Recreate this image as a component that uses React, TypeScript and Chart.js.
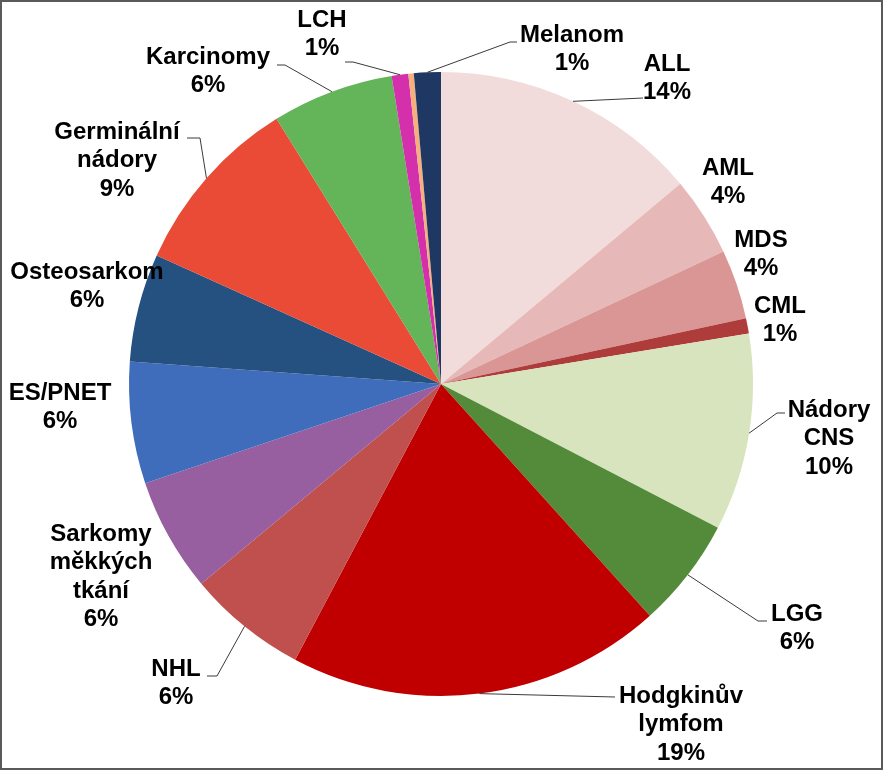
import React, { useEffect, useRef } from "react";
import { Chart, registerables } from "chart.js";

Chart.register(...registerables);

// Categories clockwise from 12 o'clock
const categories = [
  "ALL",
  "AML",
  "MDS",
  "CML",
  "Nádory CNS",
  "LGG",
  "Hodgkinův lymfom",
  "NHL",
  "Sarkomy měkkých tkání",
  "ES/PNET",
  "Osteosarkom",
  "Germinální nádory",
  "Karcinomy",
  "LCH",
  "Ostatní",
  "Melanom",
];

// Shares in percent
const values = [13.9, 4.1, 3.6, 0.8, 10.2, 5.7, 19.4, 6.2, 5.9, 6.3, 5.6, 9.4, 6.3, 0.86, 0.28, 1.39];

// Label text lines (percent is appended); null = no label
const labelLines: (string[] | null)[] = [
  ["ALL"],
  ["AML"],
  ["MDS"],
  ["CML"],
  ["Nádory", "CNS"],
  ["LGG"],
  ["Hodgkinův", "lymfom"],
  ["NHL"],
  ["Sarkomy", "měkkých", "tkání"],
  ["ES/PNET"],
  ["Osteosarkom"],
  ["Germinální", "nádory"],
  ["Karcinomy"],
  ["LCH"],
  null,
  ["Melanom"],
];

const colors = [
  "#F2DCDB",
  "#E6B9B8",
  "#D99694",
  "#AE3C3A",
  "#D7E4BD",
  "#548B3B",
  "#C00000",
  "#C0504D",
  "#975EA0",
  "#406CBC",
  "#255180",
  "#E94B36",
  "#64B45A",
  "#D530AC",
  "#F5B07E",
  "#1F3763",
];

// Label layout relative to pie centre: text centre of first line, and leader elbow/end
type Lay = { tx: number; ty: number; elbow?: [number, number]; end?: [number, number] } | null;
const labelLayout: Lay[] = [
  { tx: 226, ty: -322, elbow: [202, -286], end: [202, -286] },
  { tx: 287, ty: -218 },
  { tx: 320, ty: -146 },
  { tx: 339, ty: -80 },
  { tx: 388, ty: 24, elbow: [336, 29], end: [344, 29] },
  { tx: 356, ty: 228, elbow: [317, 237], end: [326, 237] },
  { tx: 240, ty: 310, elbow: [174, 313], end: [174, 313] },
  { tx: -265, ty: 283, elbow: [-224, 292], end: [-234, 292] },
  { tx: -340, ty: 148 },
  { tx: -381, ty: 7 },
  { tx: -354, ty: -114 },
  { tx: -324, ty: -254, elbow: [-241, -246], end: [-254, -246] },
  { tx: -233, ty: -329, elbow: [-156, -319], end: [-164, -319] },
  { tx: -119, ty: -366, elbow: [-88, -322], end: [-96, -322] },
  null,
  { tx: 131, ty: -351, elbow: [69, -342], end: [76, -342] },
];

const FONT_SIZE = 24;
const LINE_H = 28.5;

const labelPlugin = {
  id: "pieLabels",
  afterDatasetsDraw(chart: any) {
    const ctx = chart.ctx as CanvasRenderingContext2D;
    const meta = chart.getDatasetMeta(0);
    const data = chart.data.datasets[0].data as number[];
    const total = data.reduce((a, b) => a + b, 0);
    ctx.save();
    meta.data.forEach((arc: any, i: number) => {
      const lay = labelLayout[i];
      const lines = labelLines[i];
      if (!lay || !lines) return;
      const p = arc.getProps(["x", "y", "startAngle", "endAngle", "outerRadius"], true);
      const mid = (p.startAngle + p.endAngle) / 2;
      const cx = p.x;
      const cy = p.y;
      if (lay.elbow && lay.end) {
        const sx = cx + Math.cos(mid) * p.outerRadius;
        const sy = cy + Math.sin(mid) * p.outerRadius;
        ctx.beginPath();
        ctx.strokeStyle = "#3a3a3a";
        ctx.lineWidth = 1;
        ctx.moveTo(sx, sy);
        ctx.lineTo(cx + lay.elbow[0], cy + lay.elbow[1]);
        ctx.lineTo(cx + lay.end[0], cy + lay.end[1]);
        ctx.stroke();
      }
      const pct = Math.round((data[i] / total) * 100) + "%";
      const all = [...lines, pct];
      ctx.fillStyle = "#000000";
      ctx.font = `bold ${FONT_SIZE}px "Liberation Sans", Arial, sans-serif`;
      ctx.textAlign = "center";
      ctx.textBaseline = "alphabetic";
      all.forEach((t, k) => {
        const capCenter = cy + lay.ty + k * LINE_H;
        ctx.fillText(t, cx + lay.tx, capCenter + FONT_SIZE * 0.358);
      });
    });
    ctx.restore();
  },
};

export default function App() {
  const canvasRef = useRef<HTMLCanvasElement | null>(null);

  useEffect(() => {
    if (!canvasRef.current) return;
    const chart = new Chart(canvasRef.current, {
      type: "pie",
      data: {
        labels: categories,
        datasets: [
          {
            data: values,
            backgroundColor: colors,
            borderColor: colors,
            borderWidth: 0,
          },
        ],
      },
      options: {
        responsive: false,
        animation: false,
        layout: { padding: { left: 127, right: 128, top: 70, bottom: 72 } },
        plugins: {
          legend: { display: false },
          tooltip: { enabled: false },
        },
      },
      plugins: [labelPlugin],
    });
    return () => chart.destroy();
  }, []);

  return (
    <div
      style={{
        position: "absolute",
        left: 0,
        top: 0,
        width: 883,
        height: 770,
        boxSizing: "border-box",
        border: "2px solid #5a5a5a",
        background: "#ffffff",
      }}
    >
      <canvas ref={canvasRef} width={879} height={766} style={{ display: "block", width: 879, height: 766 }} />
    </div>
  );
}
